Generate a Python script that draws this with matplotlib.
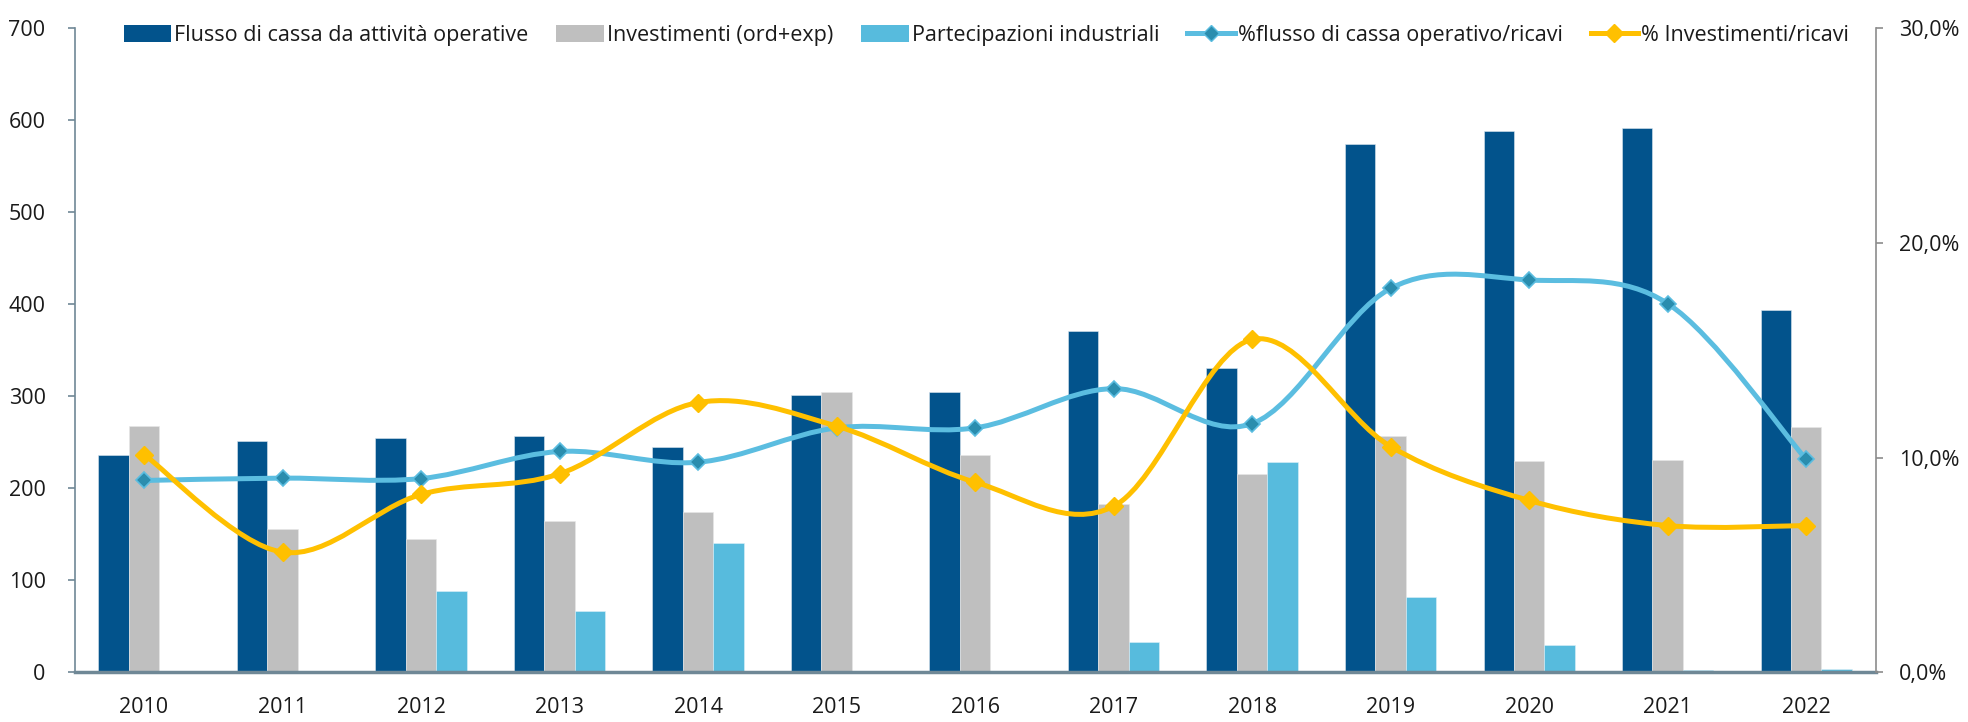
import matplotlib
matplotlib.use("Agg")
import matplotlib.pyplot as plt
from matplotlib.path import Path
from matplotlib.patches import PathPatch, Patch
from matplotlib.lines import Line2D
from matplotlib.ticker import FuncFormatter, MultipleLocator
import numpy as np

plt.rcParams['font.family'] = ['Open Sans', 'DejaVu Sans']

years = ['2010', '2011', '2012', '2013', '2014', '2015', '2016',
         '2017', '2018', '2019', '2020', '2021', '2022']
flusso_cassa = [236, 251, 254, 257, 245, 301, 304, 371, 331, 574, 588, 591, 394]
investimenti = [268, 156, 145, 164, 174, 304, 236, 183, 215, 257, 229, 231, 267]
partecipazioni = [0, 0, 88, 67, 140, 0, 0, 33, 228, 82, 30, 2, 4]
pct_flusso = [8.93, 9.04, 9.02, 10.28, 9.78, 11.38, 11.38, 13.21, 11.58, 17.88, 18.27, 17.17, 9.91]
pct_invest = [10.14, 5.59, 8.28, 9.24, 12.56, 11.46, 8.85, 7.73, 15.5, 10.51, 8.0, 6.83, 6.83]

labels = ['Flusso di cassa da attività operative', 'Investimenti (ord+exp)',
          'Partecipazioni industriali', '%flusso di cassa operativo/ricavi',
          '% Investimenti/ricavi']

c_dark = '#02538C'
c_gray = '#BFBFBF'
c_light = '#57BBDD'
c_line_blue = '#5BBDE0'
c_mark_blue = '#2A8DAE'
c_yellow = '#FFC000'
c_axis = '#6F8896'

fig = plt.figure(figsize=(19.68, 7.22), dpi=100)
ax = fig.add_axes([0.038, 0.069, 0.915, 0.892])
ax2 = ax.twinx()

x = np.arange(len(years))
w = 0.22
ax.bar(x - w, flusso_cassa, w, color=c_dark, edgecolor='#DDE8F0', linewidth=0.4, zorder=2)
ax.bar(x, investimenti, w, color=c_gray, edgecolor='#E8E8E8', linewidth=0.4, zorder=2)
ax.bar(x + w, partecipazioni, w, color=c_light, edgecolor='#DDF0F8', linewidth=0.4, zorder=2)

ax.set_xlim(-0.5, len(years) - 0.5)
ax.set_ylim(0, 700)
ax2.set_ylim(0, 30)


def smooth_path(xs, ys):
    pts = np.column_stack([xs, ys]).astype(float)
    n = len(pts)
    verts = [pts[0]]
    codes = [Path.MOVETO]
    for i in range(n - 1):
        p0 = pts[i - 1] if i > 0 else pts[i]
        p1 = pts[i]
        p2 = pts[i + 1]
        p3 = pts[i + 2] if i + 2 < n else pts[i + 1]
        c1 = p1 + (p2 - p0) / 6.0
        c2 = p2 - (p3 - p1) / 6.0
        verts += [c1, c2, p2]
        codes += [Path.CURVE4] * 3
    return Path(verts, codes)


ax2.add_patch(PathPatch(smooth_path(x, pct_flusso), fill=False, edgecolor=c_line_blue,
                        linewidth=3.6, capstyle='round', joinstyle='round', zorder=3))
ax2.plot(x, pct_flusso, linestyle='none', marker='D', markersize=8,
         markerfacecolor=c_mark_blue, markeredgecolor=c_line_blue, markeredgewidth=1.2, zorder=4)
ax2.add_patch(PathPatch(smooth_path(x, pct_invest), fill=False, edgecolor=c_yellow,
                        linewidth=3.6, capstyle='round', joinstyle='round', zorder=5))
ax2.plot(x, pct_invest, linestyle='none', marker='D', markersize=9,
         markerfacecolor=c_yellow, markeredgecolor=c_yellow, zorder=6)

# axes styling
for a in (ax, ax2):
    a.spines['top'].set_visible(False)
ax.spines['right'].set_visible(False)
ax2.spines['left'].set_visible(False)
ax2.spines['bottom'].set_visible(False)
ax.spines['left'].set_color(c_axis)
ax.spines['left'].set_linewidth(1.2)
ax2.spines['right'].set_color('#8C8C8C')
ax2.spines['right'].set_linewidth(1.2)
ax.spines['bottom'].set_color(c_axis)
ax.spines['bottom'].set_linewidth(2.5)

ax.yaxis.set_major_locator(MultipleLocator(100))
ax2.yaxis.set_major_locator(MultipleLocator(10))
ax2.yaxis.set_major_formatter(FuncFormatter(lambda v, p: f"{v:.1f}%".replace('.', ',')))

fs = 15.5
ax.set_xticks(x)
ax.set_xticklabels(years)
ax.tick_params(axis='x', length=0, pad=18, labelsize=fs, colors='#1A1A1A')
ax.tick_params(axis='y', direction='out', length=5, width=1.2, color=c_axis,
               labelsize=fs, labelcolor='#1A1A1A', pad=16)
ax2.tick_params(axis='y', direction='out', length=5, width=1.2, color='#8C8C8C',
                labelsize=fs, labelcolor='#1A1A1A', pad=12)

handles = [
    Patch(facecolor=c_dark),
    Patch(facecolor=c_gray),
    Patch(facecolor=c_light),
    Line2D([0], [0], color=c_line_blue, linewidth=3.6, marker='D', markersize=8,
           markerfacecolor=c_mark_blue, markeredgecolor=c_line_blue),
    Line2D([0], [0], color=c_yellow, linewidth=3.6, marker='D', markersize=9,
           markerfacecolor=c_yellow, markeredgecolor=c_yellow),
]
fig.legend(handles, labels, loc='center', bbox_to_anchor=(0.5012, 0.951), ncol=5,
           frameon=False, fontsize=fs, handlelength=2.2, handleheight=0.8,
           handletextpad=0.15, columnspacing=1.3, labelcolor='#1A1A1A')

fig.savefig('out.png', dpi=100)
